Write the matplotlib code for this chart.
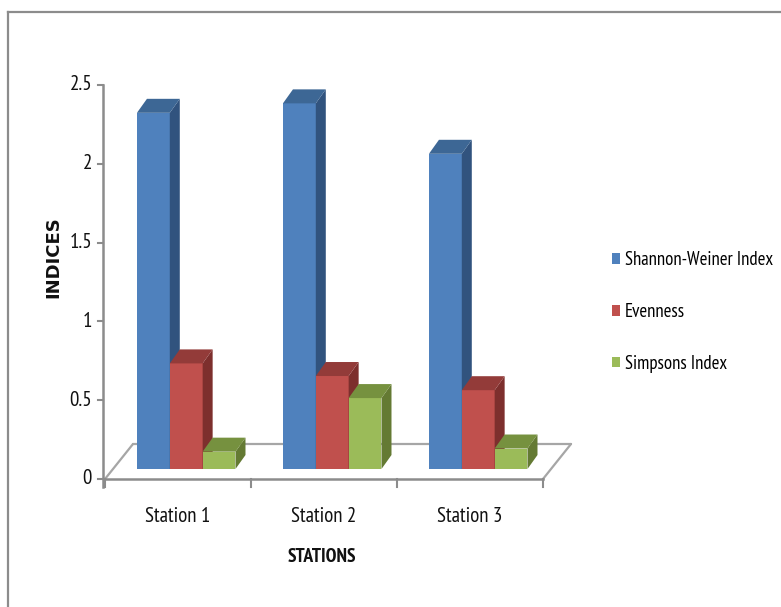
import matplotlib
matplotlib.use("Agg")
import matplotlib.pyplot as plt
from matplotlib.patches import Polygon, Patch
from matplotlib.lines import Line2D

plt.rcParams['font.family'] = ['PT Sans Narrow', 'Roboto Condensed', 'Liberation Sans', 'DejaVu Sans']

# ---- data ----
stations = ['Station 1', 'Station 2', 'Station 3']
series_names = ['Shannon-Weiner Index', 'Evenness', 'Simpsons Index']
shannon = [2.26, 2.32, 2.00]
evenness = [0.67, 0.59, 0.50]
simpson = [0.11, 0.45, 0.13]
y_ticks = [0, 0.5, 1, 1.5, 2, 2.5]
y_tick_labels = ['0', '0.5', '1', '1.5', '2', '2.5']

# face colours: front, top, side
palette = [
    ('#4F81BD', '#3D6795', '#31537E'),
    ('#C0504D', '#933B39', '#7D2F2D'),
    ('#9BBB59', '#76913F', '#647A33'),
]
series = [shannon, evenness, simpson]

W, H = 781, 607
fig = plt.figure(figsize=(W / 100, H / 100), dpi=100)

# plot area: x in category units, y in index units
x_left, x_right = 105, 543
y_zero, y_top = 479, 85
ax = fig.add_axes([x_left / W, (H - y_zero) / H,
                   (x_right - x_left) / W, (y_zero - y_top) / H])
ax.set_xlim(0, 3)
ax.set_ylim(0, 2.5)
ax.axis('off')

ppx = (x_right - x_left) / 3.0       # pixels per category unit
ppy = (y_zero - y_top) / 2.5         # pixels per index unit


def dx(p):
    return p / ppx


def dy(p):
    return p / ppy


axis_col = '#8C8C8C'
floor_col = '#A6A6A6'
text_col = '#111111'
fs = 15
legend_fs = 13.5

# floor of the 3D plot
fdx, fdy = dx(28), dy(35)
floor_kw = dict(color=floor_col, lw=1.6, zorder=1, clip_on=False, solid_capstyle='round')
ax.plot([fdx, 3 + fdx], [fdy, fdy], **floor_kw)
ax.plot([0, fdx], [0, fdy], **floor_kw)
ax.plot([3, 3 + fdx], [0, fdy], **floor_kw)
ax.plot([0, 3], [0, 0], color=axis_col, lw=1.8, zorder=1, clip_on=False)

# value axis
ax.plot([dx(-2), dx(-2)], [dy(-8), 2.5], color=axis_col, lw=1.8, zorder=1, clip_on=False)
for t, lab in zip(y_ticks, y_tick_labels):
    ax.plot([dx(-7), dx(-2)], [t, t], color=axis_col, lw=1.5, zorder=1, clip_on=False)
    ax.text(dx(-13), t, lab, ha='right', va='center', fontsize=fs, color=text_col)

# category ticks
for i in range(4):
    ax.plot([i, i], [0, dy(-8)], color=axis_col, lw=1.5, zorder=1, clip_on=False)

# bars (front face, top and side)
front_dx, front_dy = dx(8), dy(10)
bar_w, gap = 0.225, 0.164
depth_x, depth_y = dx(10), dy(14)
z = 3
for i in range(len(stations)):
    for k, vals in enumerate(series):
        front, top, side = palette[k]
        x0 = i + front_dx + gap + k * bar_w
        base = front_dy
        h = vals[i]
        t = base + h
        ax.bar(x0, h, bar_w, bottom=base, align='edge', color=front,
               linewidth=0, zorder=z, clip_on=False)
        ax.add_patch(Polygon([(x0 + bar_w, base), (x0 + bar_w, t),
                              (x0 + bar_w + depth_x, t + depth_y),
                              (x0 + bar_w + depth_x, base + depth_y)],
                             closed=True, facecolor=side, lw=0, zorder=z, clip_on=False))
        ax.add_patch(Polygon([(x0, t), (x0 + bar_w, t),
                              (x0 + bar_w + depth_x, t + depth_y),
                              (x0 + depth_x, t + depth_y)],
                             closed=True, facecolor=top, lw=0, zorder=z, clip_on=False))
        z += 1

# category labels and axis titles
for i, s in enumerate(stations):
    ax.text(i + 0.5, dy(-38), s, ha='center', va='center', fontsize=fs, color=text_col)
ax.text(dx(322 - x_left), dy(-78), 'STATIONS', ha='center', va='center',
        fontsize=14, fontweight='bold', color=text_col)
ax.text(dx(53 - x_left), dy(y_zero - 257), 'INDICES', ha='center', va='center',
        rotation=90, fontsize=13, fontweight='bold', family=['DejaVu Sans'], color=text_col)

# legend
handles = [Patch(facecolor=palette[k][0], edgecolor='none') for k in range(3)]
fig.legend(handles, series_names, loc='center left',
           bbox_to_anchor=(612 / W, 1 - 312 / H), frameon=False,
           fontsize=legend_fs, handlelength=0.42, handleheight=0.5,
           handletextpad=0.25, labelspacing=1.8, borderpad=0, borderaxespad=0)

# chart frame
frame_kw = dict(color=axis_col, lw=1.6, transform=fig.transFigure)
fig.add_artist(Line2D([8 / W, 1.0], [1 - 12 / H, 1 - 12 / H], **frame_kw))
fig.add_artist(Line2D([8 / W, 8 / W], [0, 1 - 12 / H], **frame_kw))

fig.savefig('out.png', dpi=100, facecolor='white')
